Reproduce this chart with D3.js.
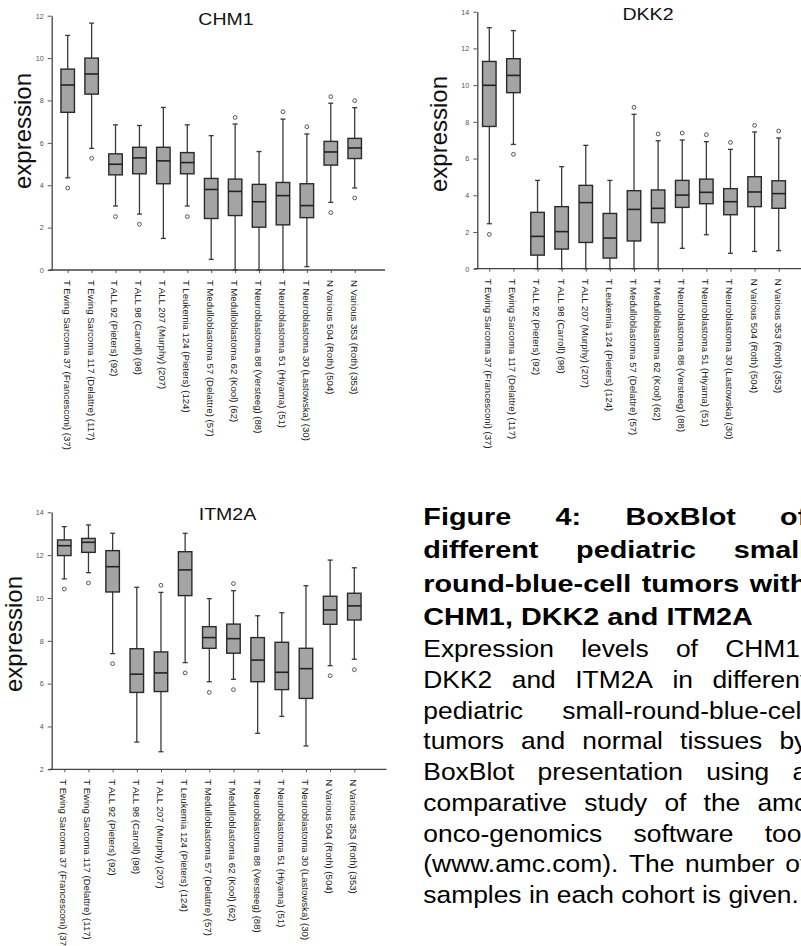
<!DOCTYPE html>
<html><head><meta charset="utf-8">
<script src="https://cdn.jsdelivr.net/npm/d3@7"></script>
<style>body{margin:0;background:#fff;} svg{display:block;}</style>
</head><body>
<svg id="c" width="801" height="946"></svg>
<script>
const categories = [
  "T Ewing Sarcoma 37 (Francesconi) (37)",
  "T Ewing Sarcoma 117 (Delattre) (117)",
  "T ALL 92 (Pieters) (92)",
  "T ALL 98 (Carroll) (98)",
  "T ALL 207 (Murphy) (207)",
  "T Leukemia 124 (Pieters) (124)",
  "T Medulloblastoma 57 (Delattre) (57)",
  "T Medulloblastoma 62 (Kool) (62)",
  "T Neuroblastoma 88 (Versteeg) (88)",
  "T Neuroblastoma 51 (Hiyama) (51)",
  "T Neuroblastoma 30 (Lastowska) (30)",
  "N Various 504 (Roth) (504)",
  "N Various 353 (Roth) (353)"
];

// CHM1
const chm1WhiskerLow  = [4.35, 5.74, 3.02, 2.64, 1.49, 3.02, 0.50, 0, 0, 0, 0.16, 3.19, 3.87];
const chm1Q1          = [7.44, 8.30, 4.49, 4.54, 4.07, 4.54, 2.43, 2.57, 2.02, 2.13, 2.47, 4.95, 5.26];
const chm1Median      = [8.73, 9.25, 4.99, 5.29, 5.15, 5.07, 3.80, 3.71, 3.22, 3.51, 3.04, 5.57, 5.76];
const chm1Q3          = [9.48, 10.00, 5.48, 5.79, 5.79, 5.54, 4.32, 4.29, 4.04, 4.13, 4.07, 6.07, 6.21];
const chm1WhiskerHigh = [11.07, 11.65, 6.85, 6.82, 7.67, 6.85, 6.34, 6.89, 5.59, 7.12, 6.42, 7.87, 7.66];
const chm1Outliers    = [[3.87], [5.27], [2.52], [2.16], [], [2.52], [], [7.20], [], [7.47], [6.76], [2.71, 8.18], [3.40, 7.99]];

// DKK2
const dkk2WhiskerLow  = [2.45, 6.77, 0, 0, 0, 0, 0, 0, 1.11, 1.85, 0.84, 0.94, 0.98];
const dkk2Q1          = [7.75, 9.59, 0.74, 1.07, 1.43, 0.58, 1.51, 2.51, 3.34, 3.54, 2.94, 3.38, 3.29];
const dkk2Median      = [9.99, 10.53, 1.76, 2.02, 3.60, 1.67, 3.23, 3.29, 4.01, 4.16, 3.65, 4.18, 4.09];
const dkk2Q3          = [11.29, 11.44, 3.07, 3.38, 4.54, 3.01, 4.25, 4.29, 4.81, 4.88, 4.36, 5.01, 4.79];
const dkk2WhiskerHigh = [13.13, 12.97, 4.81, 5.56, 6.72, 4.81, 8.41, 6.97, 7.01, 6.92, 6.50, 7.45, 7.12];
const dkk2Outliers    = [[1.87], [6.23], [], [], [], [], [8.79], [7.34], [7.39], [7.30], [6.88], [7.81], [7.50]];

// ITM2A
const itm2aWhiskerLow  = [10.89, 11.18, 7.40, 3.27, 2.82, 6.98, 6.09, 6.20, 3.68, 4.47, 3.09, 6.84, 7.14];
const itm2aQ1          = [11.98, 12.13, 10.28, 5.59, 5.63, 10.11, 7.65, 7.42, 6.09, 5.72, 5.31, 8.77, 8.97];
const itm2aMedian      = [12.44, 12.60, 11.46, 6.44, 6.50, 11.31, 8.15, 8.10, 7.10, 6.53, 6.70, 9.44, 9.63];
const itm2aQ3          = [12.71, 12.78, 12.21, 7.63, 7.48, 12.16, 8.66, 8.78, 8.15, 7.93, 7.65, 10.08, 10.22];
const itm2aWhiskerHigh = [13.33, 13.41, 13.02, 10.50, 10.26, 13.02, 9.97, 10.34, 9.17, 9.31, 10.57, 11.77, 11.41];
const itm2aOutliers    = [[10.42], [10.70], [6.93], [], [10.59], [6.50], [5.59], [10.67, 5.72], [], [], [], [6.37], [6.65]];

const chm1Ticks = [0, 2, 4, 6, 8, 10, 12];
const dkk2Ticks = [0, 2, 4, 6, 8, 10, 12, 14];
const itm2aTicks = [2, 4, 6, 8, 10, 12, 14];

const headingLines = [
  "Figure 4: BoxBlot of",
  "different pediatric small",
  "round-blue-cell tumors with",
  "CHM1, DKK2 and ITM2A"
];
const bodyLines = [
  "Expression levels of CHM1,",
  "DKK2 and ITM2A in different",
  "pediatric small-round-blue-cell",
  "tumors and normal tissues by",
  "BoxBlot presentation using a",
  "comparative study of the amc",
  "onco-genomics software tool",
  "(www.amc.com). The number of",
  "samples in each cohort is given."
];

const FONT = "'Liberation Sans', Arial, Helvetica, sans-serif";
const svg = d3.select('#c');

const panels = [
  { title: "CHM1", lo: chm1WhiskerLow, q1: chm1Q1, med: chm1Median, q3: chm1Q3, hi: chm1WhiskerHigh, out: chm1Outliers,
    ticks: chm1Ticks, yDomain: [0, 12], yRange: [270, 15.7], xRange: [67.7, 354.7], axisX: 51.7, axisEnd: 385,
    titleX: 226, titleY: 25, ylabX: 31, ylabY: 131 },
  { title: "DKK2", lo: dkk2WhiskerLow, q1: dkk2Q1, med: dkk2Median, q3: dkk2Q3, hi: dkk2WhiskerHigh, out: dkk2Outliers,
    ticks: dkk2Ticks, yDomain: [0, 14], yRange: [268.7, 11.7], xRange: [489.3, 778.7], axisX: 477.3, axisEnd: 805,
    titleX: 648, titleY: 20, ylabX: 447, ylabY: 134 },
  { title: "ITM2A", lo: itm2aWhiskerLow, q1: itm2aQ1, med: itm2aMedian, q3: itm2aQ3, hi: itm2aWhiskerHigh, out: itm2aOutliers,
    ticks: itm2aTicks, yDomain: [2, 14], yRange: [769.3, 512.3], xRange: [64.3, 354.3], axisX: 51.7, axisEnd: 386.5,
    titleX: 227.5, titleY: 520, ylabX: 22, ylabY: 634 }
];

const BOXW = 13.5, CAPW = 5;

panels.forEach(p => {
  const g = svg.append('g');
  const y = d3.scaleLinear().domain(p.yDomain).range(p.yRange);
  const x = d3.scalePoint().domain(categories).range(p.xRange);
  const base = p.yRange[0];

  // y axis
  const ya = g.append('g').attr('transform', `translate(${p.axisX},0)`)
    .call(d3.axisLeft(y).tickValues(p.ticks).tickSize(4).tickSizeOuter(0).tickPadding(4));
  ya.select('.domain').attr('stroke', '#444').attr('stroke-width', 1.3);
  ya.selectAll('.tick line').attr('stroke', '#555');
  ya.selectAll('.tick text').attr('font-family', FONT).attr('font-size', 7.2).attr('fill', '#555');

  // x axis
  const xa = g.append('g').attr('transform', `translate(0,${base})`)
    .call(d3.axisBottom(x).tickSize(3).tickSizeOuter(0).tickFormat(''));
  xa.select('.domain').remove();
  xa.selectAll('.tick line').attr('stroke', '#555');
  g.append('line').attr('x1', p.axisX - 3).attr('x2', p.axisEnd).attr('y1', base).attr('y2', base)
    .attr('stroke', '#444').attr('stroke-width', 1.3);

  // category labels
  g.selectAll('text.cat').data(categories).join('text').attr('class', 'cat')
    .attr('transform', d => `translate(${x(d)},${base + 10}) rotate(90)`)
    .attr('dy', '0.42em')
    .attr('font-family', FONT).attr('font-size', 9.6).attr('fill', '#222')
    .text(d => d);

  // boxes
  const idx = d3.range(categories.length);
  const bx = g.selectAll('g.box').data(idx).join('g').attr('class', 'box')
    .attr('transform', i => `translate(${x(categories[i])},0)`);
  bx.append('line').attr('y1', i => y(p.lo[i])).attr('y2', i => y(p.hi[i]))
    .attr('stroke', '#3a3a3a').attr('stroke-width', 1.3);
  bx.append('line').attr('x1', -CAPW / 2).attr('x2', CAPW / 2).attr('y1', i => y(p.hi[i])).attr('y2', i => y(p.hi[i]))
    .attr('stroke', '#3a3a3a').attr('stroke-width', 1.3);
  bx.append('line').attr('x1', -CAPW / 2).attr('x2', CAPW / 2).attr('y1', i => y(p.lo[i])).attr('y2', i => y(p.lo[i]))
    .attr('stroke', '#3a3a3a').attr('stroke-width', 1.3);
  bx.append('rect').attr('x', -BOXW / 2).attr('width', BOXW)
    .attr('y', i => y(p.q3[i])).attr('height', i => y(p.q1[i]) - y(p.q3[i]))
    .attr('fill', '#a4a4a4').attr('stroke', '#2a2a2a').attr('stroke-width', 1.4);
  bx.append('line').attr('x1', -BOXW / 2).attr('x2', BOXW / 2).attr('y1', i => y(p.med[i])).attr('y2', i => y(p.med[i]))
    .attr('stroke', '#222').attr('stroke-width', 1.6);
  bx.selectAll('circle').data(i => p.out[i]).join('circle')
    .attr('cy', v => y(v)).attr('r', 1.9).attr('fill', 'none').attr('stroke', '#555').attr('stroke-width', 1);

  // title
  g.append('text').attr('transform', `translate(${p.titleX},${p.titleY}) scale(1.15,1)`)
    .attr('text-anchor', 'middle').attr('font-family', FONT).attr('font-size', 17).attr('fill', '#111')
    .text(p.title);

  // y label
  g.append('text').attr('transform', `translate(${p.ylabX},${p.ylabY}) rotate(-90)`)
    .attr('text-anchor', 'middle').attr('font-family', FONT).attr('font-size', 24).attr('fill', '#111')
    .text('expression');
});

// caption (justified, overflowing to the right like the clipped original)
function drawParagraph(lines, o) {
  lines.forEach((ln, i) => {
    const g = svg.append('g').attr('transform', `translate(${o.x},${o.y0 + i * o.lh}) scale(${o.sx},1)`);
    const words = ln.split(' ');
    const style = t => t.attr('font-family', FONT).attr('font-size', o.fs).attr('font-weight', o.fw).attr('fill', '#000');
    if (i === lines.length - 1 || words.length === 1) {
      style(g.append('text')).text(ln);
      return;
    }
    const ts = words.map(w => style(g.append('text')).text(w));
    const wd = ts.map(t => t.node().getComputedTextLength());
    const gap = (o.width / o.sx - d3.sum(wd)) / (words.length - 1);
    let cx = 0;
    ts.forEach((t, j) => { t.attr('x', cx); cx += wd[j] + gap; });
  });
}
drawParagraph(headingLines, { x: 423.3, y0: 525, lh: 33.4, fs: 24, fw: 'bold', sx: 1.2, width: 384 });
drawParagraph(bodyLines, { x: 423.3, y0: 657, lh: 30.75, fs: 24, fw: 'normal', sx: 1.1, width: 384 });
</script>
</body></html>
